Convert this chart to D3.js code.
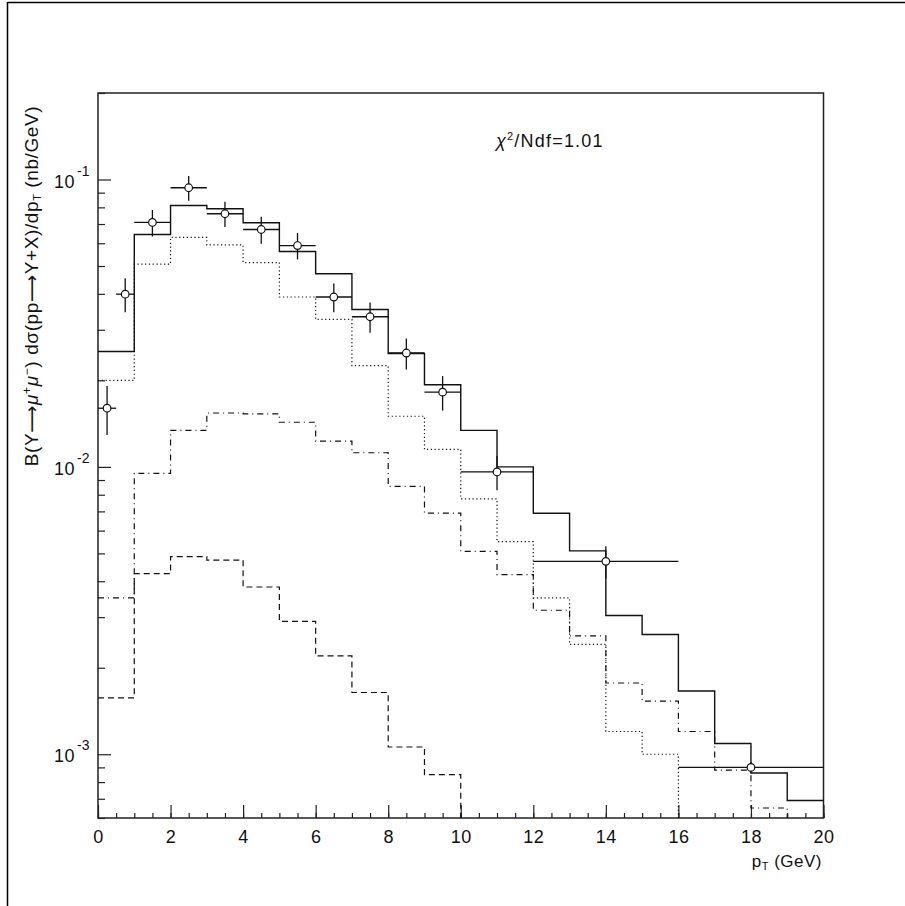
<!DOCTYPE html>
<html><head><meta charset="utf-8">
<script src="https://cdn.jsdelivr.net/npm/d3@7"></script>
<style>
body{margin:0;background:#fff;}
svg{display:block;}
text{font-family:"Liberation Sans",Arial,Helvetica,sans-serif;fill:#111;}
</style>
</head><body>
<svg id="c" width="905" height="906"></svg>
<script>
// ---------------- data ----------------
const binEdges = [0,1,2,3,4,5,6,7,8,9,10,11,12,13,14,15,16,17,18,19,20];
// total (solid)
const totalSeries = [0.0252,0.0644,0.0812,0.0791,0.0707,0.0562,0.0470,0.0353,0.0248,0.0193,
                     0.0134,0.0100,0.0069,0.0051,0.00304,0.00261,0.00166,0.00109,0.00086,0.00069];
// dotted component
const dottedSeries = [0.0200,0.0508,0.0629,0.0592,0.0514,0.0390,0.0326,0.0225,0.0150,0.0115,
                      0.00774,0.00549,0.0035,0.00241,0.0012,0.0010];
// dash-dotted component
const dashDotSeries = [0.0035,0.0095,0.0134,0.0154,0.0153,0.0143,0.0123,0.0112,0.00855,0.0069,
                       0.00508,0.00422,0.00317,0.00258,0.00177,0.00153,0.0012,0.00088,0.00065];
// dashed component
const dashedSeries = [0.00157,0.00425,0.00487,0.00474,0.00382,0.0029,0.0022,0.00164,0.00106,0.00085];

// measured points
const dataX    = [0.25,0.75,1.5,2.5,3.5,4.5,5.5,6.5,7.5,8.5,9.5,11,14,18];
const dataXErr = [0.25,0.25,0.5,0.5,0.5,0.5,0.5,0.5,0.5,0.5,0.5,1,2,2];
const dataY    = [0.0160,0.0399,0.0709,0.0936,0.0760,0.0670,0.0589,0.0390,0.0333,0.0249,0.0182,0.0096,0.00469,0.00090];
const dataYErr = [0.0031,0.0054,0.0075,0.0093,0.0077,0.0072,0.0062,0.0045,0.0040,0.0031,0.0025,0.0013,0.0006,0.00004];

// ticks
const xMajorTicks = [0,2,4,6,8,10,12,14,16,18,20];
const xMinorTicks = d3.range(0, 20.01, 0.5);
const yMajorTicks = [1e-3,1e-2,1e-1];
const yMajorLabels = ["-3","-2","-1"];
const yMinorTicks = [6e-4,7e-4,8e-4,9e-4,2e-3,3e-3,4e-3,5e-3,6e-3,7e-3,8e-3,9e-3,
                     2e-2,3e-2,4e-2,5e-2,6e-2,7e-2,8e-2,9e-2,2e-1];

// ---------------- layout ----------------
const M = {left:98, right:823.5, top:93, bottom:818};
const svg = d3.select("#c");
const x = d3.scaleLinear().domain([0,20]).range([M.left, M.right]);
const y = d3.scaleLog().domain([6e-4, 0.2]).range([M.bottom, M.top]);

// outer border lines
svg.append("line").attr("x1",7.5).attr("x2",7.5).attr("y1",2).attr("y2",906)
  .attr("stroke","#000").attr("stroke-width",1.5);
svg.append("line").attr("x1",7.5).attr("x2",905).attr("y1",2.5).attr("y2",2.5)
  .attr("stroke","#000").attr("stroke-width",1.5);

svg.append("clipPath").attr("id","clip").append("rect")
  .attr("x",M.left).attr("y",M.top).attr("width",M.right-M.left).attr("height",M.bottom-M.top);

// frame
svg.append("rect").attr("x",M.left).attr("y",M.top)
  .attr("width",M.right-M.left).attr("height",M.bottom-M.top)
  .attr("fill","none").attr("stroke","#222").attr("stroke-width",1.5);

// axes (ticks inward)
function cleanAxis(g){ g.select(".domain").remove(); g.selectAll(".tick line").attr("stroke","#222").attr("stroke-width",1.2); }
svg.append("g").attr("transform",`translate(0,${M.bottom})`)
  .call(d3.axisBottom(x).tickValues(xMinorTicks).tickSize(-5).tickFormat(""))
  .call(cleanAxis);
const gxMaj = svg.append("g").attr("transform",`translate(0,${M.bottom})`)
  .call(d3.axisBottom(x).tickValues(xMajorTicks).tickSize(-13).tickPadding(12).tickFormat(d3.format("d")))
  .call(cleanAxis);
gxMaj.selectAll(".tick text").attr("font-size",18).attr("letter-spacing",0.5)
  .attr("font-family","Liberation Sans, Arial, sans-serif").attr("fill","#111");

svg.append("g").attr("transform",`translate(${M.left},0)`)
  .call(d3.axisLeft(y).tickValues(yMinorTicks).tickSize(-7).tickFormat(""))
  .call(cleanAxis);
svg.append("g").attr("transform",`translate(${M.left},0)`)
  .call(d3.axisLeft(y).tickValues(yMajorTicks).tickSize(-13).tickFormat(""))
  .call(cleanAxis);

// y tick labels with superscript exponents
yMajorTicks.forEach((v,i)=>{
  svg.append("text").attr("x",75).attr("y",y(v)+8)
    .attr("text-anchor","end").attr("font-size",18).attr("letter-spacing",0.5).text("10");
  svg.append("text").attr("x",77).attr("y",y(v)-4)
    .attr("font-size",14).text(yMajorLabels[i]);
});

// histograms
function stepPath(vals){
  const p = d3.path();
  vals.forEach((v,i)=>{
    const x0 = x(binEdges[i]), x1 = x(binEdges[i+1]), yy = y(v);
    if(i===0) p.moveTo(x0,yy); else p.lineTo(x0,yy);
    p.lineTo(x1,yy);
  });
  if(vals.length < binEdges.length-1) p.lineTo(x(binEdges[vals.length]), M.bottom+3);
  return p.toString();
}
const plot = svg.append("g").attr("clip-path","url(#clip)");
const styles = [
  {vals: dashedSeries,  dash:"6,4"},
  {vals: dashDotSeries, dash:"6,4,1,4"},
  {vals: dottedSeries,  dash:"1.2,2.6"},
  {vals: totalSeries,   dash:null}
];
styles.forEach(s=>{
  plot.append("path").attr("d",stepPath(s.vals)).attr("fill","none")
    .attr("stroke","#111")
    .attr("stroke-width", s.dash ? 1.2 : 1.4)
    .attr("stroke-dasharray", s.dash);
});

// data points with error bars
const pts = plot.append("g");
dataX.forEach((xv,i)=>{
  const cx = x(xv), cy = y(dataY[i]);
  pts.append("line").attr("x1",x(xv-dataXErr[i])).attr("x2",x(xv+dataXErr[i]))
    .attr("y1",cy).attr("y2",cy).attr("stroke","#111").attr("stroke-width",1.3);
  pts.append("line").attr("x1",cx).attr("x2",cx)
    .attr("y1",y(dataY[i]+dataYErr[i])).attr("y2",y(dataY[i]-dataYErr[i]))
    .attr("stroke","#111").attr("stroke-width",1.3);
  pts.append("circle").attr("cx",cx).attr("cy",cy).attr("r",3.8)
    .attr("fill","#fff").attr("stroke","#111").attr("stroke-width",1.2);
});

// chi2 annotation
const chi = svg.append("text").attr("x",496).attr("y",147).attr("font-size",18).attr("letter-spacing",1.2);
chi.append("tspan").attr("font-style","italic").text("χ");
chi.append("tspan").attr("dy",-7).attr("font-size",11).text("2");
chi.append("tspan").attr("dy",7).text("/Ndf=1.01");

// x title
const xt = svg.append("text").attr("x",822).attr("y",867).attr("text-anchor","end").attr("font-size",17).attr("letter-spacing",0.5);
xt.append("tspan").text("p");
xt.append("tspan").attr("dy",3).attr("font-size",11).text("T");
xt.append("tspan").attr("dy",-3).text(" (GeV)");

// y title
const yt = svg.append("text").attr("transform","translate(38,286) rotate(-90)")
  .attr("text-anchor","middle").attr("font-size",19).attr("letter-spacing",0.6);
yt.append("tspan").text("B(Υ");
yt.append("tspan").attr("font-family","DejaVu Sans").text("⟶");
yt.append("tspan").attr("font-style","italic").text("μ");
yt.append("tspan").attr("dy",-7).attr("font-size",12).text("+");
yt.append("tspan").attr("dy",7).attr("font-style","italic").text("μ");
yt.append("tspan").attr("dy",-7).attr("font-size",12).text("−");
yt.append("tspan").attr("dy",7).text(") dσ(pp");
yt.append("tspan").attr("font-family","DejaVu Sans").text("⟶");
yt.append("tspan").text("Υ+X)/dp");
yt.append("tspan").attr("dy",3).attr("font-size",11).text("T");
yt.append("tspan").attr("dy",-3).text(" (nb/GeV)");
</script>
</body></html>
